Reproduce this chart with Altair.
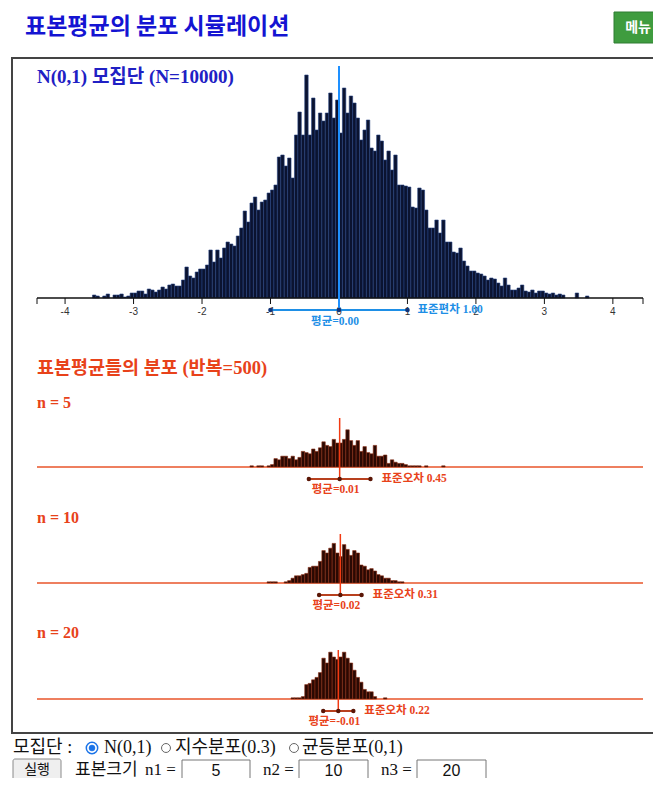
import altair as alt
import pandas as pd

W, H = 645, 770

# ---------------- data ----------------
BIN_W = 0.05
pop_first = -3.65
pop_counts = [
    0, 3, 2, 0, 2, 4, 0, 3, 3, 4,
    1, 2, 5, 5, 7, 7, 4, 9, 8, 6,
    8, 11, 9, 13, 14, 12, 12, 18, 31, 22,
    20, 26, 29, 29, 33, 48, 36, 48, 40, 50,
    56, 54, 52, 62, 70, 87, 76, 95, 101, 88,
    96, 98, 105, 108, 113, 141, 143, 132, 140, 120,
    163, 186, 163, 223, 163, 200, 168, 185, 177, 185,
    205, 180, 198, 165, 210, 185, 202, 195, 180, 158,
    168, 178, 150, 147, 163, 157, 138, 147, 128, 143,
    113, 113, 112, 111, 91, 90, 110, 108, 88, 70,
    70, 78, 65, 78, 56, 56, 46, 45, 50, 37,
    32, 27, 27, 25, 24, 22, 18, 20, 19, 15,
    12, 20, 13, 8, 8, 10, 13, 7, 6, 8,
    5, 7, 7, 5, 4, 5, 3, 4, 3, 0,
    0, 0, 5, 0, 0, 2,
]
pop_mean = 0.00
pop_sd = 1.00
pop_N = 10000
reps = 500

n_sizes = [5, 10, 20]
samp_first = [-1.30, -1.05, -0.70]
samp_counts = [
    [1, 0, 1, 1, 0, 1, 2, 7, 6, 9, 9, 7, 9, 6, 8, 13, 12, 11, 15, 13,
     16, 21, 18, 17, 23, 20, 20, 23, 31, 22, 18, 22, 13, 17, 12, 11, 18, 9, 9, 10,
     3, 6, 4, 3, 3, 2, 1, 1, 1, 1, 0, 1, 0, 0, 0, 0, 1],
    [1, 1, 1, 0, 0, 1, 2, 4, 6, 6, 7, 8, 13, 14, 14, 18, 27, 25, 29, 33,
     25, 22, 32, 28, 23, 27, 25, 15, 14, 11, 12, 10, 7, 6, 4, 4, 2, 2, 1, 1],
    [1, 1, 1, 2, 12, 13, 16, 18, 22, 34, 30, 39, 35, 33, 35, 39, 34, 30, 24, 18,
     14, 8, 6, 6, 2, 0, 0, 1],
]
samp_means = [0.01, 0.02, -0.01]
samp_ses = [0.45, 0.31, 0.22]

tick_values = [-4, -3, -2, -1, 0, 1, 2, 3, 4]
axis_ends = [-4.41, 4.44]
population_options = ["N(0,1)", "지수분포(0.3)", "균등분포(0,1)"]

# ---------------- helpers ----------------
CANVAS_FONT = "Liberation Serif, Noto Sans CJK KR"
KR_FONT = "Noto Sans CJK KR"
BLUE = "#1e8fe6"
RED = "#e8421a"

xs = alt.Scale(domain=axis_ends, range=[29, 635], nice=False, zero=False)


def X(f):
    return alt.X(f, scale=xs, axis=None)


one = pd.DataFrame({"k": [0]})


def text_at(s, x, y, size, color, weight="normal", font=CANVAS_FONT, align="left"):
    return alt.Chart(one).mark_text(
        text=s, fontSize=size, color=color, fontWeight=weight, font=font,
        align=align, baseline="middle"
    ).encode(x=alt.value(x), y=alt.value(y))


def rect_at(x1, x2, y1, y2, fill, stroke, sw=1.0, r=0):
    return alt.Chart(one).mark_rect(
        fill=fill, stroke=stroke, strokeWidth=sw, cornerRadius=r
    ).encode(x=alt.value(x1), x2=alt.value(x2), y=alt.value(y1), y2=alt.value(y2))


def ring_at(x, y, size, stroke, sw=1.0, fill="white"):
    return alt.Chart(one).mark_point(
        shape="circle", size=size, filled=True, fill=fill, stroke=stroke,
        strokeWidth=sw, opacity=1
    ).encode(x=alt.value(x), y=alt.value(y))


def hist_df(first, counts):
    rows = [
        {"x0": round(first + i * BIN_W, 4), "x1": round(first + (i + 1) * BIN_W, 4), "c": c, "z": 0}
        for i, c in enumerate(counts) if c > 0
    ]
    return pd.DataFrame(rows)


ends_df = pd.DataFrame({"a": [axis_ends[0]], "b": [axis_ends[1]]})

layers = []
# page chrome
layers.append(rect_at(4, 650, 50, 725, "white", "#444444", 2))
layers.append(text_at("표본평균의 분포 시뮬레이션", 17, 19, 23, "#1414d2", "bold", KR_FONT))
layers.append(rect_at(606, 662, 4, 35, "#3f9c3f", "#2e7d32", 1))
layers.append(text_at("메뉴", 630, 20, 14, "white", "bold", KR_FONT, "center"))
layers.append(text_at(f"N(0,1) 모집단 (N={pop_N})", 29, 69, 19, "#2020c4", "bold"))

# population histogram
POP_BASE = 290
layers.append(
    alt.Chart(hist_df(pop_first, pop_counts)).mark_rect(
        fill="#0b1330", stroke="#25427f", strokeWidth=0.6
    ).encode(
        x=X("x0:Q"), x2="x1",
        y=alt.Y("c:Q", scale=alt.Scale(domain=[0, 230], range=[POP_BASE, POP_BASE - 230], nice=False, zero=False), axis=None),
        y2="z",
    )
)
layers.append(alt.Chart(ends_df).mark_rule(color="#111", strokeWidth=1.5).encode(
    x=X("a:Q"), x2="b", y=alt.value(POP_BASE)))
layers.append(alt.Chart(pd.DataFrame({"t": axis_ends + tick_values})).mark_rule(color="#111", strokeWidth=1).encode(
    x=X("t:Q"), y=alt.value(POP_BASE), y2=alt.value(POP_BASE + 6)))
layers.append(alt.Chart(pd.DataFrame({"t": tick_values, "s": [str(t) for t in tick_values]})).mark_text(
    fontSize=10, font="Liberation Sans", color="#333", baseline="middle").encode(
    x=X("t:Q"), y=alt.value(POP_BASE + 14), text="s:N"))

pop_stat = pd.DataFrame({
    "m": [pop_mean], "lo": [pop_mean - pop_sd], "hi": [pop_mean + pop_sd],
    "ml": [f"평균={pop_mean:.2f}"], "sl": [f"표준편차 {pop_sd:.2f}"],
})
SEG_Y = POP_BASE + 12
layers.append(alt.Chart(pop_stat).mark_rule(color=BLUE, strokeWidth=2).encode(
    x=X("lo:Q"), x2="hi", y=alt.value(SEG_Y)))
layers.append(alt.Chart(pop_stat).mark_rule(color="#1e90ff", strokeWidth=2).encode(
    x=X("m:Q"), y=alt.value(58), y2=alt.value(SEG_Y)))
layers.append(alt.Chart(pop_stat).transform_fold(["lo", "m", "hi"]).mark_circle(
    size=22, color="#12357a", opacity=1).encode(x=X("value:Q"), y=alt.value(SEG_Y)))
layers.append(alt.Chart(pop_stat).mark_text(
    font=CANVAS_FONT, fontSize=11.5, fontWeight="bold", color=BLUE, align="left", dx=10, baseline="middle"
).encode(x=X("hi:Q"), y=alt.value(SEG_Y), text="sl:N"))
layers.append(alt.Chart(pop_stat).mark_text(
    font=CANVAS_FONT, fontSize=11.5, fontWeight="bold", color=BLUE, align="center", dx=-4, baseline="middle"
).encode(x=X("m:Q"), y=alt.value(SEG_Y + 12), text="ml:N"))

# sample-mean distributions
layers.append(text_at(f"표본평균들의 분포 (반복={reps})", 29, 360, 18.5, RED, "bold"))
bases = [459, 575, 691]
title_ys = [395, 510, 625]
for i, n in enumerate(n_sizes):
    base = bases[i]
    m, se = samp_means[i], samp_ses[i]
    layers.append(text_at(f"n = {n}", 29, title_ys[i], 16, RED, "bold"))
    layers.append(alt.Chart(ends_df).mark_rule(color="#e8552a", strokeWidth=1.5).encode(
        x=X("a:Q"), x2="b", y=alt.value(base)))
    layers.append(
        alt.Chart(hist_df(samp_first[i], samp_counts[i])).mark_rect(
            fill="#2a0903", stroke="#8c2c12", strokeWidth=0.6
        ).encode(
            x=X("x0:Q"), x2="x1",
            y=alt.Y("c:Q", scale=alt.Scale(domain=[0, 50], range=[base, base - 60], nice=False, zero=False), axis=None),
            y2="z",
        )
    )
    st = pd.DataFrame({
        "m": [m], "lo": [m - se], "hi": [m + se],
        "ml": [f"평균={m:.2f}"], "sl": [f"표준오차 {se:.2f}"],
    })
    sy = base + 12
    layers.append(alt.Chart(st).mark_rule(color="#b8401e", strokeWidth=2).encode(
        x=X("lo:Q"), x2="hi", y=alt.value(sy)))
    layers.append(alt.Chart(st).mark_rule(color="#f23a12", strokeWidth=1.5).encode(
        x=X("m:Q"), y=alt.value(base - 49), y2=alt.value(sy)))
    layers.append(alt.Chart(st).transform_fold(["lo", "m", "hi"]).mark_circle(
        size=20, color="#5a1606", opacity=1).encode(x=X("value:Q"), y=alt.value(sy)))
    layers.append(alt.Chart(st).mark_text(
        font=CANVAS_FONT, fontSize=11.5, fontWeight="bold", color=RED, align="left", dx=11, baseline="middle"
    ).encode(x=X("hi:Q"), y=alt.value(sy), text="sl:N"))
    layers.append(alt.Chart(st).mark_text(
        font=CANVAS_FONT, fontSize=11.5, fontWeight="bold", color=RED, align="center", dx=-4, baseline="middle"
    ).encode(x=X("m:Q"), y=alt.value(sy + 11), text="ml:N"))

# form controls below the canvas
R1 = 740
layers.append(text_at("모집단 :", 5, R1, 18, "#111"))
layers.append(ring_at(84, R1, 130, "#1a73e8", 1.5))
layers.append(ring_at(84, R1, 36, "#1a73e8", 0.5, "#1a73e8"))
layers.append(text_at(population_options[0], 96, R1, 18, "#111"))
layers.append(ring_at(158, R1, 80, "#666", 1))
layers.append(text_at(population_options[1], 167, R1, 18, "#111"))
layers.append(ring_at(286, R1, 80, "#666", 1))
layers.append(text_at(population_options[2], 294, R1, 18, "#111"))

R2 = 762
layers.append(rect_at(5, 53, R2 - 11, R2 + 12, "#efefef", "#8a8a8a", 1, 2))
layers.append(text_at("실행", 29, R2, 14, "#111", "normal", KR_FONT, "center"))
layers.append(text_at("표본크기", 67, R2, 17, "#111"))
box_x = [(174, 242), (291, 360), (409, 478)]
lab_x = [137, 255, 373]
for i, n in enumerate(n_sizes):
    layers.append(text_at(f"n{i + 1} =", lab_x[i], R2, 17, "#111"))
    x1, x2 = box_x[i]
    layers.append(rect_at(x1, x2, R2 - 10, R2 + 12, "white", "#767676", 1))
    layers.append(text_at(str(n), (x1 + x2) / 2, R2 + 1, 16, "#111", "normal", "Liberation Sans", "center"))

chart = alt.layer(*layers).resolve_scale(y="independent").properties(
    width=W, height=H, autosize=alt.AutoSizeParams(type="none"), padding=0, background="white"
).configure_view(strokeWidth=0)

chart.save("out.html", embed_options={"renderer": "svg", "actions": False})
